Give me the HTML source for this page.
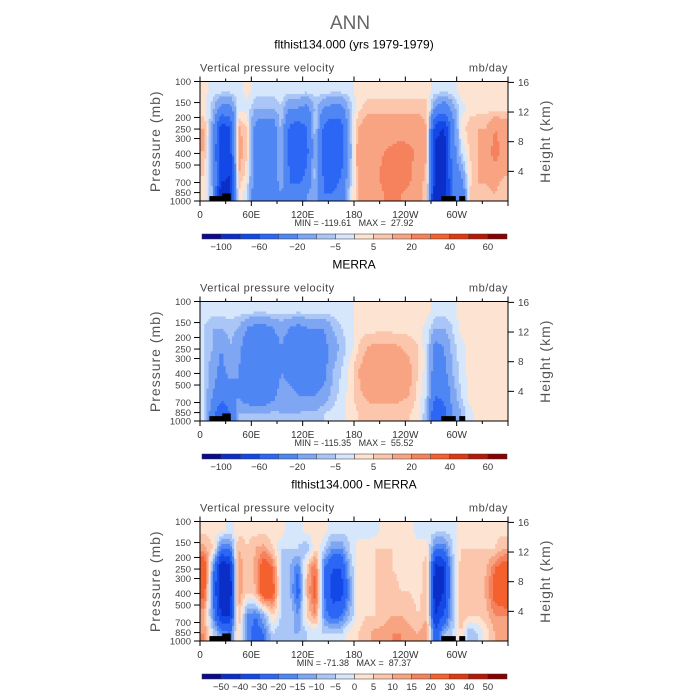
<!DOCTYPE html>
<html><head><meta charset="utf-8"><style>
body{margin:0;background:#fff;width:700px;height:700px;overflow:hidden}
svg{display:block}
text{font-family:"Liberation Sans",sans-serif}
</style></head><body>
<svg id="c" width="700" height="700" viewBox="0 0 700 700">
<text x="350" y="29" text-anchor="middle" font-size="19" fill="#666">ANN</text>
</svg>
<script>
const lonCenters=[5,15,25,35,45,55,65,75,85,95,105,115,125,135,145,155,165,175,185,195,205,215,225,235,245,255,265,275,285,295,305,315,325,335,345,355];
const pressureBands=[100,140,200,300,500,750,1000];
const panelTitles=["flthist134.000 (yrs 1979-1979)","MERRA","flthist134.000 - MERRA"];
const minMaxLabels=["MIN = -119.61   MAX =  27.92","MIN = -115.35   MAX =  55.52","MIN = -71.38   MAX =  87.37"];
const levelsAbs=[-100,-80,-60,-40,-20,-10,-5,0,5,10,20,30,40,50,60];
const levelsDiff=[-50,-40,-30,-20,-15,-10,-5,0,5,10,15,20,30,40,50];
const labelsAbs=["-100","","-60","","-20","","-5","","5","","20","","40","","60"];
const labelsDiff=["-50","-40","-30","-20","-15","-10","-5","0","5","10","15","20","30","40","50"];
const xTickLons=[0,60,120,180,240,300];
const xTickLabels=["0","60E","120E","180","120W","60W"];
const pTicks=[100,150,200,250,300,400,500,700,850,1000];
const hTicks=[16,12,8,4];
const model=[
[2,-2,-2,-2,-2,2,-2,-2,-2,-2,-2,-2,-2,-2,-2,-2,-2,-2,2,2,2,2,2,2,2,2,2,-2,-2,-2,2,2,2,2,2,2],
[2,-8,-25,-25,-2,-2,-10,-10,-10,-5,-20,-20,-25,-8,-20,-25,-25,-8,3,8,8,8,8,8,8,8,8,-20,-30,-15,-2,2,3,3,3,3],
[10,-15,-70,-60,12,5,-25,-30,-30,-8,-45,-50,-40,-5,-45,-55,-50,-10,10,15,15,15,15,15,15,15,10,-70,-80,-30,2,8,10,10,20,15],
[10,-20,-80,-70,15,5,-30,-35,-30,-10,-50,-55,-45,-8,-50,-60,-55,-15,15,18,18,20,22,25,22,18,10,-90,-100,-30,-5,5,10,15,25,15],
[5,-15,-70,-80,10,2,-30,-35,-30,-10,-40,-50,-35,-5,-45,-55,-40,-10,12,15,18,22,28,28,22,15,8,-80,-100,-35,-20,3,10,12,15,10],
[2,-10,-100,-90,5,-5,-30,-40,-35,-20,-40,-30,-20,-15,-40,-40,-30,-5,10,15,18,20,22,20,18,15,5,-100,-100,-40,-40,5,10,8,10,5]];
const merra=[
[-2,-2,-2,-2,-2,-2,-2,-2,-2,-2,-2,-2,-2,-2,-2,-2,-2,-2,2,2,2,2,2,2,2,2,2,-2,-2,-2,2,2,2,2,2,2],
[-5,-10,-10,-8,-10,-20,-25,-25,-20,-15,-20,-25,-20,-20,-20,-10,-5,-3,3,3,3,3,3,3,3,3,-2,-10,-10,-5,2,2,2,2,2,2],
[-5,-10,-20,-10,-15,-30,-35,-35,-30,-20,-30,-35,-30,-30,-25,-15,-8,-3,5,10,12,12,12,10,8,5,-3,-25,-20,-8,-2,2,3,3,3,3],
[-5,-15,-25,-15,-20,-35,-40,-40,-30,-20,-25,-30,-30,-30,-25,-10,-5,2,10,15,20,20,20,18,12,5,-3,-30,-25,-10,-3,2,3,3,3,3],
[-5,-20,-30,-30,-20,-30,-35,-35,-25,-15,-15,-20,-20,-20,-15,-8,-3,2,8,12,15,15,15,12,10,3,-5,-40,-35,-15,-5,2,3,3,3,2],
[-5,-30,-60,-40,-10,-10,-10,-10,-8,-10,-10,-10,-8,-8,-5,-3,-2,2,5,5,5,5,5,5,5,3,-10,-60,-50,-20,-10,-2,2,2,2,2]];
const diff=[
[3,3,2,-3,3,3,3,3,2,3,-3,-3,3,3,3,-3,-3,-3,-3,-3,-3,3,3,3,3,-3,-3,-3,-3,-3,3,3,3,3,3,3],
[12,5,-20,-20,10,5,10,12,5,-5,-5,-5,-10,5,-5,-15,-15,-5,3,3,5,5,5,3,3,3,3,-20,-20,-5,5,5,5,5,5,10],
[30,-15,-50,-45,15,5,12,30,20,-5,-10,-20,8,20,-20,-30,-30,-10,3,3,5,5,5,3,3,3,8,-45,-40,-10,8,8,5,10,20,25],
[25,-20,-50,-50,15,5,10,30,25,-5,-10,-25,10,25,-20,-35,-35,-15,3,3,5,5,8,5,5,3,8,-50,-40,-10,10,10,5,12,25,30],
[10,-15,-40,-40,10,-15,-20,-10,5,-5,-5,-15,5,15,-15,-25,-20,-10,3,5,5,8,10,10,8,5,8,-40,-30,-10,10,5,5,8,15,15],
[15,-5,-15,-20,5,-15,-25,-20,-5,-10,-10,-10,-5,-5,-5,-5,-5,3,5,8,12,12,15,15,12,10,15,-30,-10,-5,5,-10,-5,3,10,10]];
const colors=["#0a0a8c","#0c2ec8","#1448e6","#2c66f4","#4f86f4","#7ea6f2","#aac6f6","#d6e6fb","#fde3d2","#fbc6ac","#f8a482","#f5825c","#f4602e","#de3a12","#b41a08","#880000"];
const NS="http://www.w3.org/2000/svg";
const svg=document.getElementById('c');
const X0=200,X1=508,PH=119.5;
const panelTops=[81.5,301.5,521.5];
function mk(t,a,p){const e=document.createElementNS(NS,t);for(const k in a)e.setAttribute(k,a[k]);(p||svg).appendChild(e);return e;}
function xs(lon){return X0+lon/360*(X1-X0);}
function ys(top,p){return top+Math.log10(p/100)*PH;}
function colorOf(v,lv){let i=0;while(i<lv.length&&v>=lv[i])i++;return colors[i];}
function sample(data,li,lo){
  let f=(lo-5)/10;if(f<0)f=0;if(f>35)f=35;const i=Math.floor(f),t=f-i;const j=Math.min(i+1,35);
  return data[li][i]*(1-t)+data[li][j]*t;}
function val(data,lo,p){
  const lp=Math.log10(p);const cen=[];for(let k=0;k<6;k++)cen.push((Math.log10(pressureBands[k])+Math.log10(pressureBands[k+1]))/2);
  if(lp<=cen[0])return sample(data,0,lo);if(lp>=cen[5])return sample(data,5,lo);
  let k=0;while(lp>cen[k+1])k++;const t=(lp-cen[k])/(cen[k+1]-cen[k]);
  return sample(data,k,lo)*(1-t)+sample(data,k+1,lo)*t;}
const datasets=[model,merra,diff];
datasets.forEach((data,pi)=>{
  const top=panelTops[pi];const lv=pi<2?levelsAbs:levelsDiff;const labs=pi<2?labelsAbs:labelsDiff;
  const g=mk('g',{});
  
  
  const t=mk('text',{x:354,y:top-33,'text-anchor':'middle','font-size':12},g);t.textContent=panelTitles[pi];
  
  
  const l1=mk('text',{x:X0,y:top-10,'font-size':11,fill:'#444','letter-spacing':'0.5'},g);l1.textContent='Vertical pressure velocity';
  
  
  const l2=mk('text',{x:X1,y:top-10,'font-size':11,fill:'#444','text-anchor':'end','letter-spacing':'0.5'},g);l2.textContent='mb/day';
  
  
  const hm=mk('g',{},g);
  
  
  const NX=144,NY=48;
  for(let a=0;a<NX;a++){const lo0=a*360/NX,lo1=(a+1)*360/NX;
    for(let b=0;b<NY;b++){const q0=Math.pow(10,2+b/NY),q1=Math.pow(10,2+(b+1)/NY);
      const v=val(data,(lo0+lo1)/2,Math.sqrt(q0*q1));
      const r=mk('rect',{x:xs(lo0).toFixed(2),y:ys(top,q0).toFixed(2),width:(xs(lo1)-xs(lo0)+0.4).toFixed(2),height:(ys(top,q1)-ys(top,q0)+0.4).toFixed(2),fill:colorOf(v,lv)},hm);
      
      }}
  [[11,28,910],[26,36,865],[282,299,910],[303,310,910]].forEach(d=>{const r=mk('rect',{x:xs(d[0]),y:ys(top,d[2]),width:xs(d[1])-xs(d[0]),height:ys(top,1000)-ys(top,d[2]),fill:'#000'},g);
    
    });
  mk('rect',{x:X0,y:top,width:X1-X0,height:PH,fill:'none',stroke:'#000','stroke-width':1},g);
  for(let lo=0;lo<=360;lo+=30){const x=xs(lo);const maj=lo%60==0;
    mk('line',{x1:x,x2:x,y1:top,y2:top-(maj?5:3),stroke:'#000'},g);mk('line',{x1:x,x2:x,y1:top+PH,y2:top+PH+(maj?5:3),stroke:'#000'},g);}
  xTickLons.forEach((lo,i)=>{const tx=mk('text',{x:xs(lo),y:top+PH+17,'text-anchor':'middle','font-size':10,fill:'#333'},g);tx.textContent=xTickLabels[i];
    
    });
  pTicks.forEach(p=>{const y=ys(top,p);mk('line',{x1:X0,x2:X0-6,y1:y,y2:y,stroke:'#000'},g);
    const tx=mk('text',{x:X0-9,y:y+3.5,'text-anchor':'end','font-size':9.5,fill:'#444'},g);tx.textContent=p;
    
    });
  hTicks.forEach(h=>{const p=1000*Math.exp(-h/7);const y=ys(top,p);mk('line',{x1:X1,x2:X1+6,y1:y,y2:y,stroke:'#000'},g);
    const tx=mk('text',{x:X1+10,y:y+3.5,'font-size':10,fill:'#444'},g);tx.textContent=h;
    
    });
  const ya=mk('text',{transform:`translate(${160},${top+PH/2}) rotate(-90)`,'text-anchor':'middle','font-size':14,fill:'#555','letter-spacing':'1'},g);ya.textContent='Pressure (mb)';
  
  
  const yb=mk('text',{transform:`translate(${550},${top+PH/2}) rotate(-90)`,'text-anchor':'middle','font-size':14,fill:'#555','letter-spacing':'1'},g);yb.textContent='Height (km)';
  
  
  const mm=mk('text',{x:354,y:top+PH+25,'text-anchor':'middle','font-size':9,fill:'#333','xml:space':'preserve'},g);mm.setAttribute('style','white-space:pre');mm.textContent=minMaxLabels[pi];
  
  
  const cb=mk('g',{},g);
  
  
  const cx0=202,cx1=507,cy=top+PH+33,bw=(cx1-cx0)/16;
  colors.forEach((c,i)=>{const r=mk('rect',{x:cx0+i*bw,y:cy,width:bw,height:5,fill:c,stroke:'#333','stroke-width':0.5},cb);
    
    });
  labs.forEach((s,i)=>{if(!s)return;const tx=mk('text',{x:cx0+(i+1)*bw,y:cy+16,'text-anchor':'middle','font-size':9.5,fill:'#333'},cb);tx.textContent=s.replace('-','\u2212');
    
    });
});
</script>
</body></html>
